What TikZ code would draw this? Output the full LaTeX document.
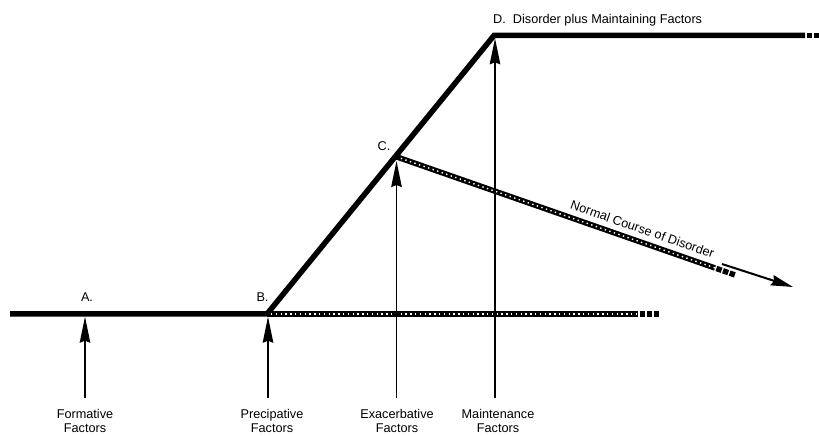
\documentclass[tikz,border=0pt]{standalone}
\usepackage{fontspec}
\setmainfont{Liberation Sans}
\usetikzlibrary{arrows.meta,calc}
\begin{document}
\begin{tikzpicture}[x=1pt,y=1pt,
  mainline/.style={line width=5.5pt, line join=miter},
  strip/.style={line width=5.5pt},
  stripdots/.style={white, line width=1.4pt, dash pattern=on 1.4pt off 3.4pt},
  endsq/.style={line width=5.5pt, dash pattern=on 5.5pt off 1.5pt},
  factor/.style={-{Stealth[length=26pt,width=10.5pt,inset=2pt]}, line width=1.6pt},
  course/.style={-{Stealth[length=22pt,width=10.5pt,inset=2pt]}, line width=2pt},
  lbl/.style={font=\fontsize{12.7}{13.5}\selectfont, inner sep=0pt},
  bottomlbl/.style={lbl, align=center, anchor=north}
]
\useasboundingbox (0,0) rectangle (819,436);
% key points
\coordinate (A0) at (10,122);
\coordinate (B) at (267,122);
\coordinate (D) at (494,400.5);
\coordinate (D1) at (805,400.5);
\coordinate (H1) at (638,122);
\coordinate (C) at (397,279);
\coordinate (E) at (715,168);
\coordinate (N0) at (722,172);
\coordinate (N1) at (793,149);
% film strips
\draw[strip] (B) -- (H1);
\draw[stripdots] ($(B)+(4,0)$) -- (H1);
\draw[endsq] ($(H1)+(1.5,0)$) -- ($(H1)+(21,0)$);
\draw[strip] (C) -- (E);
\draw[stripdots] ($(C)!4pt!(E)$) -- (E);
\draw[endsq] ($(E)!-1.5pt!(C)$) -- ($(E)!-21pt!(C)$);
% main course
\draw[mainline] (A0) -- (B) -- (D) -- (D1);
\draw[endsq] ($(D1)+(1.5,0)$) -- ($(D1)+(14,0)$);
% normal course arrow
\draw[course] (N0) -- (N1);
\node[lbl, rotate=-19.3, anchor=base] (nc) at (641,202.6) {Normal Course of Disorder};
% factor arrows
\coordinate (fa) at (85,38);
\coordinate (ta) at (85,119.3);
\coordinate (fb) at (268,38);
\coordinate (tb) at (268,119.3);
\coordinate (fc) at (396.5,38);
\coordinate (tc) at (396.5,275);
\coordinate (fd) at (495,38);
\coordinate (td) at (495,397.7);
\draw[factor] (fa) -- (ta);
\draw[factor] (fb) -- (tb);
\draw[factor] (fc) -- (tc);
\draw[factor] (fd) -- (td);
% point labels
\node[lbl] (la) at (87,138.5) {A.};
\node[lbl] (lb) at (262.5,139.3) {B.};
\node[lbl] (lc) at (384,290) {C.};
\node[lbl, anchor=base west] (ld) at (493,412.7) {D.\ \ Disorder plus Maintaining Factors};
% factor labels
\node[bottomlbl] (xa) at (85,26.5) {Formative\\Factors};
\node[bottomlbl] (xb) at (272,26.5) {Precipative\\Factors};
\node[bottomlbl] (xc) at (397,26.5) {Exacerbative\\Factors};
\node[bottomlbl] (xd) at (498,26.5) {Maintenance\\Factors};
\end{tikzpicture}
\end{document}
